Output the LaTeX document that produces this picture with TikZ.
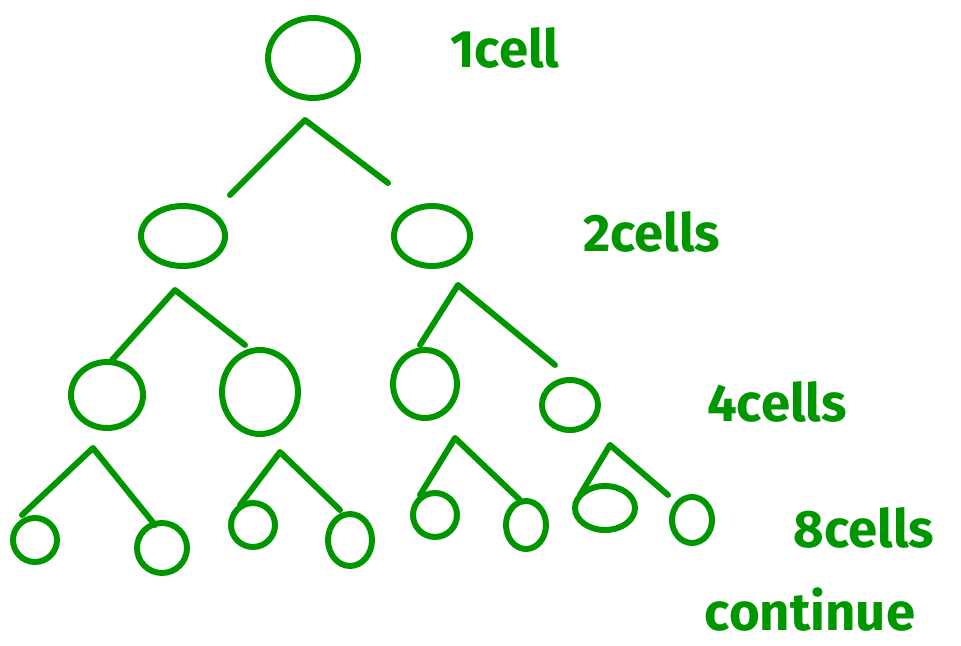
\documentclass[tikz,border=0pt]{standalone}
\usepackage{fontspec}
\setmainfont{Fira Sans}
\usetikzlibrary{shapes.geometric}
\definecolor{pen}{RGB}{0,150,0}
\begin{document}
\begin{tikzpicture}[x=0.02cm,y=-0.02cm,
  cell/.style n args={2}{draw=pen, line width=3.4pt, ellipse, inner sep=0pt,
    minimum width=#1*0.04cm, minimum height=#2*0.04cm},
  branch/.style={draw=pen, line width=3.4pt, line cap=round, line join=round},
  lab/.style={text=pen, font=\fontsize{30}{32}\selectfont\bfseries, anchor=center}]
\useasboundingbox (0,0) rectangle (961,646);
% cells
\node[cell={45}{40}] (r) at (313,58) {};
\node[cell={42}{30}] (a) at (183,236) {};
\node[cell={38}{30}] (b) at (432,236) {};
\node[cell={36}{33}] (aa) at (107,395) {};
\node[cell={38}{42}] (ab) at (260,392) {};
\node[cell={32}{34}] (ba) at (425,384) {};
\node[cell={28}{25}] (bb) at (570,405) {};
\node[cell={22}{22}] (aaa) at (35,540) {};
\node[cell={25}{25}] (aab) at (162,548) {};
\node[cell={22}{22}] (aba) at (253,525) {};
\node[cell={22}{26}] (abb) at (350,540) {};
\node[cell={22}{22}] (baa) at (435,515) {};
\node[cell={20}{24}] (bab) at (526,525) {};
\node[cell={30}{22}] (bba) at (605,508) {};
\node[cell={20}{23}] (bbb) at (692,520) {};
% branches
\coordinate (r0) at (230,195); \coordinate (r1) at (305,120); \coordinate (r2) at (388,183);
\draw[branch] (r0) -- (r1) -- (r2);
\coordinate (a0) at (112,360); \coordinate (a1) at (175,290); \coordinate (a2) at (245,345);
\draw[branch] (a0) -- (a1) -- (a2);
\coordinate (b0) at (420,345); \coordinate (b1) at (458,285); \coordinate (b2) at (555,365);
\draw[branch] (b0) -- (b1) -- (b2);
\coordinate (c0) at (22,515); \coordinate (c1) at (93,448); \coordinate (c2) at (155,525);
\draw[branch] (c0) -- (c1) -- (c2);
\coordinate (d0) at (240,505); \coordinate (d1) at (280,452); \coordinate (d2) at (340,510);
\draw[branch] (d0) -- (d1) -- (d2);
\coordinate (e0) at (420,495); \coordinate (e1) at (455,438); \coordinate (e2) at (520,500);
\draw[branch] (e0) -- (e1) -- (e2);
\coordinate (f0) at (580,495); \coordinate (f1) at (610,445); \coordinate (f2) at (668,495);
\draw[branch] (f0) -- (f1) -- (f2);
% labels
\node[lab] (l1) at (505,48) {1cell};
\node[lab] (l2) at (652,232) {2cells};
\node[lab] (l4) at (777,402) {4cells};
\node[lab] (l8) at (864,528) {8cells};
\node[lab] (l9) at (810,610) {continue};
\end{tikzpicture}
\end{document}
